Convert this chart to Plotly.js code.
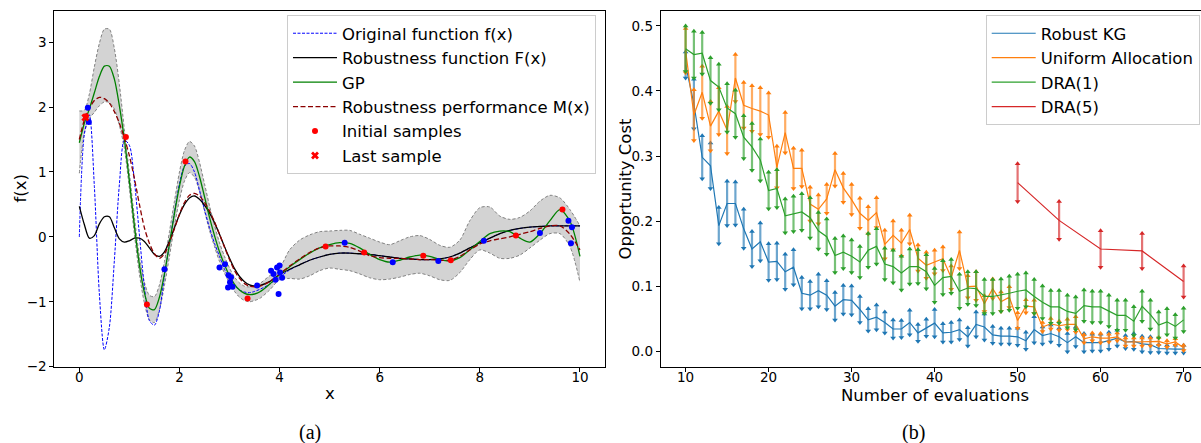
<!DOCTYPE html>
<html><head><meta charset="utf-8">
<script src="https://cdn.plot.ly/plotly-3.0.1.min.js"></script>
<style>html,body{margin:0;padding:0;overflow:hidden;background:#fff}</style>
</head><body><div id="chart"></div>
<script>
// ---------- Panel (a) data ----------
const xGrid = [0,0.1,0.2,0.3,0.4,0.5,0.6,0.7,0.8,0.9,1.0,1.1,1.2,1.3,1.4,1.5,1.6,1.7,1.8,1.9,2.0,2.1,2.2,2.3,2.4,2.5,2.6,2.7,2.8,2.9,3.0,3.1,3.2,3.3,3.4,3.5,
  3.6,3.8,4.0,4.2,4.4,4.6,4.8,5.0,5.2,5.4,5.6,5.8,6.0,6.2,6.4,6.6,6.8,7.0,7.2,7.4,7.6,7.8,8.0,8.2,8.4,8.6,8.8,9.0,9.2,9.4,9.6,9.8,10.0];
const originalF = [0.0,1.58,1.88,0.78,-0.88,-1.74,-1.39,-0.36,0.81,1.49, 1.41,0.86,0.03,-0.77,-1.29,-1.36,-1.14,-0.6,-0.12,0.38, 0.82,1.09,1.13,1.0,0.72,0.42,0.14,-0.1,-0.3,-0.5, -0.64,-0.75,-0.82,-0.85,-0.86,-0.84,
  -0.81,-0.73,-0.62,-0.51,-0.43,-0.36,-0.31,-0.27,-0.25,-0.25, -0.26,-0.27,-0.29,-0.31,-0.33,-0.34,-0.35,-0.35,-0.34,-0.31, -0.25,-0.17,-0.09,-0.02,0.05,0.1,0.13,0.15,0.16,0.17, 0.17,0.17,0.17];
const robustF = [0.47,0.19,-0.02,0.02,0.2,0.31,0.31,0.14,-0.03,-0.08, -0.06,-0.02,-0.02,-0.07,-0.17,-0.27,-0.3,-0.23,-0.06,0.14, 0.34,0.5,0.6,0.63,0.58,0.49,0.37,0.22,0.04,-0.15, -0.33,-0.49,-0.61,-0.69,-0.74,-0.76,
  -0.75,-0.69,-0.58,-0.5,-0.43,-0.36,-0.31,-0.27,-0.25,-0.25, -0.26,-0.27,-0.29,-0.31,-0.33,-0.34,-0.35,-0.35,-0.34,-0.31, -0.25,-0.17,-0.09,-0.02,0.05,0.1,0.13,0.15,0.16,0.17, 0.17,0.17,0.17];
const gpMean = [1.45,1.75,1.97,2.22,2.47,2.63,2.63,2.43,2.02,1.5, 0.86,0.17,-0.43,-0.86,-1.1,-1.12,-0.93,-0.57,-0.11,0.36, 0.78,1.09,1.23,1.16,0.93,0.62,0.3,0.02,-0.23,-0.43, -0.6,-0.73,-0.82,-0.87,-0.89,-0.88,
  -0.85,-0.73,-0.58,-0.46,-0.35,-0.25,-0.17,-0.12,-0.09,-0.1, -0.17,-0.27,-0.35,-0.39,-0.36,-0.31,-0.28,-0.3,-0.35,-0.37, -0.32,-0.2,-0.07,0.05,0.09,0.08,-0.02,-0.08,0.05,0.25, 0.42,0.24,-0.3];
const gpUpper = [1.94,1.95,2.2,2.62,2.98,3.2,3.2,2.9,2.35,1.65, 0.98,0.3,-0.3,-0.7,-0.9,-0.92,-0.74,-0.38,0.08,0.55, 1.0,1.33,1.47,1.4,1.15,0.82,0.48,0.18,-0.09,-0.3, -0.48,-0.62,-0.71,-0.76,-0.77,-0.75,
  -0.72,-0.6,-0.48,-0.2,-0.05,0.03,0.08,0.09,0.1,0.1, 0.04,-0.02,-0.08,-0.12,-0.06,0.0,0.02,-0.04,-0.13,-0.16, -0.05,0.25,0.45,0.46,0.32,0.27,0.3,0.4,0.55,0.64, 0.6,0.42,0.17];
const gpLower = [0.98,1.6,1.82,1.92,2.02,2.08,2.07,1.97,1.72,1.36, 0.74,0.04,-0.57,-1.02,-1.28,-1.32,-1.12,-0.75,-0.3,0.17, 0.57,0.86,0.99,0.92,0.7,0.4,0.1,-0.15,-0.38,-0.56, -0.71,-0.84,-0.93,-0.98,-1.0,-0.98,
  -0.95,-0.82,-0.66,-0.64,-0.65,-0.6,-0.52,-0.48,-0.5,-0.52, -0.57,-0.63,-0.66,-0.65,-0.62,-0.58,-0.56,-0.6,-0.66,-0.67, -0.55,-0.35,-0.2,-0.25,-0.33,-0.33,-0.28,-0.17,-0.05,0.05, 0.05,-0.15,-0.7];
const robustM = [1.5,1.8,1.98,2.1,2.15,2.13,2.06,1.93,1.75,1.52, 1.25,0.9,0.5,0.14,-0.1,-0.26,-0.33,-0.26,-0.09,0.13, 0.35,0.53,0.64,0.67,0.63,0.53,0.4,0.23,0.04,-0.16, -0.35,-0.52,-0.64,-0.72,-0.76,-0.77,
  -0.76,-0.69,-0.57,-0.45,-0.34,-0.24,-0.17,-0.14,-0.14,-0.16, -0.22,-0.29,-0.32,-0.33,-0.33,-0.34,-0.35,-0.35,-0.36,-0.36, -0.3,-0.2,-0.11,-0.06,-0.03,0.0,0.04,0.08,0.13,0.17, 0.17,0.04,-0.2];
const initX = [0.13,0.93,1.35,2.12,3.36,4.92,5.69,6.87,7.42,8.72,9.65];
const initY = [1.86,1.54,-1.04,1.16,-0.95,-0.15,-0.24,-0.29,-0.36,0.02,0.42];
const lastX = [0.12];
const lastY = [1.84];
const evalX = [0.17,0.19,1.70,2.80,2.91,2.98,3.01,2.97,3.06,3.03,3.55,3.83,3.88,3.92,3.95,3.98,4.0,4.01,4.05,5.3,6.26,7.17,8.08,9.2,9.77,9.82,9.84];
const evalY = [1.99,1.77,-0.5,-0.47,-0.42,-0.59,-0.70,-0.78,-0.77,-0.62,-0.75,-0.52,-0.57,-0.66,-0.47,-0.88,-0.44,-0.55,-0.63,-0.09,-0.39,-0.37,-0.06,0.06,0.25,-0.10,0.15];
const xTicksA = [0,2,4,6,8,10];
const yTicksA = [-2,-1,0,1,2,3];

// ---------- Panel (b) data ----------
const evals = [10,11,12,13,14,15,16,17,18,19,20,21,22,23,24,25,26,27,28,29,30,31,32,33,34,35,36,37,38,39,40,41,42,43,44,45,46,47,48,49,50,51,52,53,54,55,56,57,58,59,60,61,62,63,64,65,66,67,68,69,70];
const kgMean = [0.44,0.38,0.298,0.285,0.193,0.227,0.227,0.188,0.157,0.168, 0.137,0.138,0.122,0.129,0.089,0.086,0.093,0.086,0.069,0.079, 0.078,0.064,0.048,0.052,0.044,0.034,0.034,0.044,0.028,0.036, 0.043,0.028,0.029,0.033,0.022,0.041,0.037,0.025,0.023,0.023, 0.022,0.016,0.033,0.024,0.027,0.022,0.013,0.022,0.013,0.013, 0.013,0.016,0.02,0.014,0.015,0.011,0.01,0.004,0.003,0.003, 0.003];
const kgErr = [0.02,0.038,0.033,0.035,0.028,0.034,0.033,0.03,0.027,0.029, 0.028,0.028,0.027,0.027,0.024,0.021,0.025,0.022,0.021,0.022, 0.022,0.02,0.017,0.019,0.016,0.014,0.013,0.019,0.013,0.013, 0.021,0.014,0.015,0.015,0.014,0.019,0.02,0.013,0.012,0.012, 0.013,0.013,0.02,0.013,0.013,0.013,0.014,0.015,0.014,0.013, 0.013,0.013,0.012,0.01,0.012,0.012,0.012,0.006,0.006,0.006, 0.006];
const uniMean = [0.462,0.363,0.398,0.346,0.369,0.34,0.42,0.378,0.373,0.369, 0.363,0.283,0.336,0.281,0.281,0.226,0.218,0.234,0.279,0.251, 0.233,0.212,0.201,0.213,0.164,0.178,0.166,0.187,0.143,0.132, 0.137,0.142,0.113,0.155,0.099,0.1,0.073,0.096,0.076,0.083, 0.047,0.069,0.068,0.037,0.042,0.039,0.041,0.041,0.019,0.022, 0.02,0.02,0.022,0.014,0.014,0.014,0.014,0.015,0.011,0.014, 0.005];
const uniErr = [0.034,0.039,0.04,0.038,0.036,0.036,0.036,0.035,0.035,0.036, 0.034,0.032,0.031,0.031,0.028,0.026,0.022,0.022,0.025,0.022, 0.023,0.023,0.021,0.023,0.022,0.022,0.02,0.022,0.02,0.02, 0.018,0.018,0.018,0.028,0.017,0.022,0.012,0.015,0.015,0.016, 0.012,0.01,0.01,0.007,0.008,0.007,0.008,0.012,0.006,0.006, 0.007,0.006,0.006,0.006,0.006,0.006,0.006,0.006,0.005,0.005, 0.004];
const dra1Mean = [0.465,0.456,0.458,0.416,0.406,0.374,0.365,0.329,0.314,0.294, 0.247,0.25,0.208,0.211,0.214,0.205,0.185,0.176,0.147,0.152, 0.146,0.137,0.155,0.161,0.134,0.13,0.12,0.13,0.13,0.122, 0.101,0.113,0.115,0.092,0.097,0.096,0.084,0.084,0.086,0.089, 0.092,0.094,0.084,0.075,0.068,0.068,0.061,0.058,0.07,0.068, 0.068,0.062,0.055,0.055,0.046,0.069,0.056,0.04,0.045,0.038, 0.048];
const dra1Err = [0.035,0.036,0.032,0.035,0.035,0.037,0.036,0.033,0.036,0.032, 0.028,0.029,0.026,0.027,0.028,0.031,0.028,0.027,0.026,0.025, 0.025,0.024,0.026,0.027,0.024,0.025,0.026,0.027,0.026,0.026, 0.026,0.026,0.026,0.026,0.025,0.026,0.026,0.026,0.025,0.026, 0.026,0.026,0.026,0.025,0.025,0.025,0.025,0.025,0.024,0.024, 0.024,0.024,0.023,0.023,0.022,0.023,0.022,0.02,0.02,0.018, 0.018];
const dra5X = [50,55,60,65,70];
const dra5Mean = [0.259,0.201,0.157,0.154,0.107];
const dra5Err = [0.029,0.029,0.028,0.027,0.024];
const xTicksB = [10,20,30,40,50,60,70];
const yTicksB = [0,0.1,0.2,0.3,0.4,0.5];

// ---------- build ----------
const W = 1210, H = 443;
const FONT = 'DejaVu Sans';
const traces = [];
const lineA = (y, color, width, dash, name, show) => ({
  x: xGrid, y: y, type: 'scatter', mode: 'lines', name: name, showlegend: show,
  line: {color: color, width: width, dash: dash, shape: 'spline', smoothing: 0.8},
  xaxis: 'x', yaxis: 'y', legend: 'legend', hoverinfo: 'skip'
});
traces.push(lineA(gpLower, 'gray', 1, '3px,2px', 'lower', false));
const up = lineA(gpUpper, 'gray', 1, '3px,2px', 'upper', false);
up.fill = 'tonexty'; up.fillcolor = 'lightgray';
traces.push(up);
traces.push(lineA(originalF, '#0000ff', 1, '3px,1.5px', 'Original function f(x)', true));
traces.push(lineA(robustF, '#000000', 1.3, 'solid', 'Robustness function F(x)', true));
traces.push(lineA(gpMean, '#008000', 1.3, 'solid', 'GP', true));
traces.push(lineA(robustM, '#8b0000', 1.3, '5px,2.5px', 'Robustness performance M(x)', true));
traces.push({x: evalX, y: evalY, type: 'scatter', mode: 'markers', showlegend: false,
  marker: {color: '#0000ff', size: 6}, xaxis: 'x', yaxis: 'y'});
traces.push({x: initX, y: initY, type: 'scatter', mode: 'markers', name: 'Initial samples',
  marker: {color: '#ff0000', size: 6}, xaxis: 'x', yaxis: 'y', legend: 'legend'});
traces.push({x: lastX, y: lastY, type: 'scatter', mode: 'markers', name: 'Last sample',
  marker: {color: '#ff0000', size: 7, symbol: 'x'}, xaxis: 'x', yaxis: 'y', legend: 'legend'});

function errSeries(xs, mean, err, color, rgba, name) {
  const top = mean.map((m, i) => m + err[i]);
  const bot = mean.map((m, i) => m - err[i]);
  traces.push({x: xs, y: mean, type: 'scatter', mode: 'lines', name: name,
    line: {color: color, width: 1.2},
    error_y: {type: 'data', array: err, visible: true, color: rgba, thickness: 2.2, width: 0},
    xaxis: 'x2', yaxis: 'y2', legend: 'legend2'});
  traces.push({x: xs, y: top, type: 'scatter', mode: 'markers', showlegend: false,
    marker: {symbol: 'triangle-up', size: 5, color: color}, xaxis: 'x2', yaxis: 'y2'});
  traces.push({x: xs, y: bot, type: 'scatter', mode: 'markers', showlegend: false,
    marker: {symbol: 'triangle-down', size: 5, color: color}, xaxis: 'x2', yaxis: 'y2'});
}
errSeries(evals, kgMean, kgErr, '#1f77b4', 'rgba(31,119,180,0.65)', 'Robust KG');
errSeries(evals, uniMean, uniErr, '#ff7f0e', 'rgba(255,127,14,0.65)', 'Uniform Allocation');
errSeries(evals, dra1Mean, dra1Err, '#2ca02c', 'rgba(44,160,44,0.65)', 'DRA(1)');
errSeries(dra5X, dra5Mean, dra5Err, '#d62728', 'rgba(214,39,40,0.65)', 'DRA(5)');

const yTop = 1 - 11 / H, yBot = 1 - 366.7 / H;
const axisCommon = {
  showline: true, mirror: true, linecolor: '#000', linewidth: 1,
  ticks: 'outside', ticklen: 4, tickwidth: 1, tickcolor: '#000',
  tickfont: {family: FONT, size: 13.5, color: '#000'},
  showgrid: false, zeroline: false, fixedrange: true
};
const ann = (text, x, y, size, family, angle) => ({
  text: text, x: x / W, y: 1 - y / H, xref: 'paper', yref: 'paper',
  xanchor: 'center', yanchor: 'middle', showarrow: false, textangle: angle || 0,
  font: {family: family, size: size, color: '#000'}
});
const legendCommon = {
  bgcolor: 'rgba(255,255,255,0.85)', bordercolor: '#cccccc', borderwidth: 1,
  font: {family: FONT, size: 16.5, color: '#000'}, tracegroupgap: 0,
  traceorder: 'normal', itemwidth: 44, yanchor: 'top', y: 1 - 15 / H
};
const layout = {
  width: W, height: H, margin: {l: 0, r: 0, t: 0, b: 0},
  paper_bgcolor: '#fff', plot_bgcolor: '#fff',
  font: {family: FONT, color: '#000'},
  xaxis: Object.assign({}, axisCommon, {domain: [54.3 / W, 605 / W], range: [-0.5, 10.5], tickvals: xTicksA, anchor: 'y', ticklabelstandoff: -6}),
  yaxis: Object.assign({}, axisCommon, {domain: [yBot, yTop], range: [-2.0, 3.48], tickvals: yTicksA, anchor: 'x'}),
  xaxis2: Object.assign({}, axisCommon, {domain: [660.7 / W, 1208.5 / W], range: [7, 73], tickvals: xTicksB, anchor: 'y2', ticklabelstandoff: -6}),
  yaxis2: Object.assign({}, axisCommon, {domain: [yBot, yTop], range: [-0.024, 0.523], tickvals: yTicksB, tickformat: '.1f', anchor: 'x2'}),
  legend: Object.assign({}, legendCommon, {x: 596 / W, xanchor: 'right'}),
  legend2: Object.assign({}, legendCommon, {x: 985.7 / W, xanchor: 'left'}),
  annotations: [
    ann('x', 329.6, 393, 16.5, FONT),
    ann('f(x)', 19.5, 189, 16.5, FONT, -90),
    ann('Number of evaluations', 934.6, 395, 16.5, FONT),
    ann('Opportunity Cost', 625, 188.5, 16.5, FONT, -90),
    ann('(a)', 310, 432, 20, 'Liberation Serif'),
    ann('(b)', 913, 432, 20, 'Liberation Serif')
  ],
  showlegend: true
};
Plotly.newPlot('chart', traces, layout, {displayModeBar: false, staticPlot: true});
</script>
</body></html>
